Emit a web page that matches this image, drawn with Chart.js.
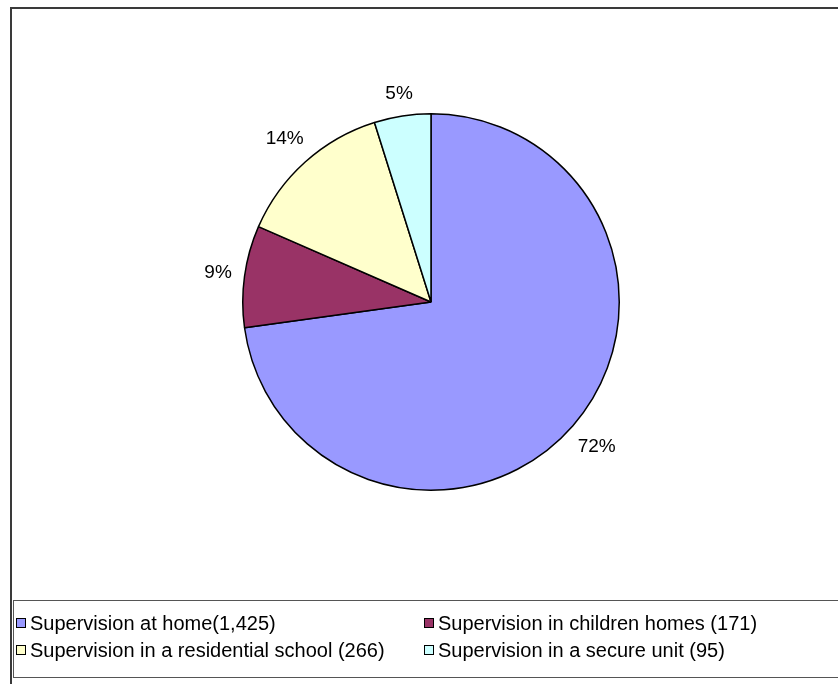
<!DOCTYPE html>
<html>
<head>
<meta charset="utf-8">
<script src="https://cdn.jsdelivr.net/npm/chart.js@4.4.1/dist/chart.umd.min.js"></script>
<style>
  html, body { margin: 0; padding: 0; background: #fff; }
  #wrap { position: relative; width: 838px; height: 684px; }
</style>
</head>
<body>
<div id="wrap"><canvas id="pie" width="838" height="684"></canvas></div>
<script>
// ── data ─────────────────────────────────────────────
const categories = [
  'Supervision at home(1,425)',
  'Supervision in children homes (171)',
  'Supervision in a residential school (266)',
  'Supervision in a secure unit (95)',
];
const values    = [1425, 171, 266, 95];
const pctLabels = ['72%', '9%', '14%', '5%'];
const colors    = ['#9999FF', '#993366', '#FFFFCC', '#CCFFFF'];

const FONT = '"Liberation Sans", Arial, sans-serif';

// percentage labels just outside each slice
const outsideLabels = {
  id: 'outsideLabels',
  afterDatasetsDraw(chart) {
    const { ctx } = chart;
    const meta = chart.getDatasetMeta(0);
    ctx.save();
    ctx.font = `19px ${FONT}`;
    ctx.fillStyle = '#000';
    ctx.textAlign = 'center';
    ctx.textBaseline = 'middle';
    meta.data.forEach((arc, i) => {
      const mid = (arc.startAngle + arc.endAngle) / 2;
      const cx = Math.cos(mid), cy = Math.sin(mid);
      const w = ctx.measureText(pctLabels[i]).width;
      const r = arc.outerRadius + 12 + Math.abs(cx) * w / 2 + Math.abs(cy) * 8;
      ctx.fillText(pctLabels[i], arc.x + cx * r, arc.y + cy * r);
    });
    ctx.restore();
  }
};

// outer frame + boxed two-column legend
const frameLegend = {
  id: 'frameLegend',
  afterDraw(chart) {
    const { ctx } = chart;
    ctx.save();
    ctx.strokeStyle = '#3a3a3a';
    ctx.lineWidth = 2;
    ctx.strokeRect(11, 8, 900, 900);

    ctx.strokeStyle = '#555';
    ctx.lineWidth = 1;
    ctx.strokeRect(13.5, 600.5, 900, 77);

    ctx.font = `20px ${FONT}`;
    ctx.textBaseline = 'middle';
    ctx.textAlign = 'left';
    const cols = [16, 424];
    const rows = [623, 650];
    categories.forEach((name, i) => {
      const x = cols[i % 2], y = rows[Math.floor(i / 2)];
      ctx.fillStyle = colors[i];
      ctx.fillRect(x, y - 5, 10, 10);
      ctx.strokeStyle = '#000';
      ctx.strokeRect(x + 0.5, y - 4.5, 9, 9);
      ctx.fillStyle = '#000';
      ctx.fillText(name, x + 14, y + 1);
    });
    ctx.restore();
  }
};

new Chart(document.getElementById('pie'), {
  type: 'pie',
  data: {
    labels: categories,
    datasets: [{
      data: values,
      backgroundColor: colors,
      borderColor: '#000',
      borderWidth: 1.5,
    }],
  },
  options: {
    responsive: false,
    animation: false,
    layout: { padding: { top: 113, bottom: 193, left: 242, right: 218 } },
    plugins: {
      legend: { display: false },
      tooltip: { enabled: false },
    },
  },
  plugins: [outsideLabels, frameLegend],
});
</script>
</body>
</html>
